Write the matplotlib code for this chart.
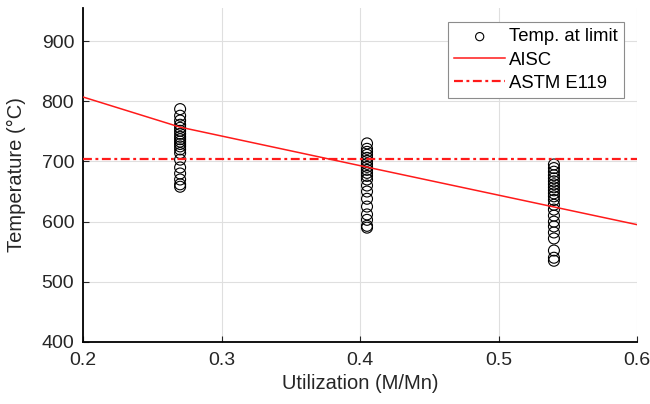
import matplotlib
matplotlib.use("Agg")
import matplotlib.pyplot as plt
import numpy as np

plt.rcParams['font.family'] = ['Liberation Sans', 'DejaVu Sans']

# Data
util_levels = [0.27, 0.405, 0.54]
temps_027 = [787, 776, 768, 761, 756, 751, 746, 741, 737, 733, 729, 725, 720, 714, 703, 690, 680, 670, 662, 658]
temps_0405 = [730, 721, 716, 711, 706, 701, 696, 691, 686, 681, 676, 670, 660, 650, 638, 625, 612, 603, 593, 590]
temps_054 = [695, 689, 683, 677, 672, 667, 662, 657, 652, 647, 642, 636, 628, 620, 610, 600, 592, 582, 572, 552, 540, 535]

aisc_x = [0.2, 0.27, 0.4, 0.6]
aisc_y = [807, 757, 693, 595]
astm_x = [0.2, 0.6]
astm_y = [704, 704]

xticks = [0.2, 0.3, 0.4, 0.5, 0.6]
yticks = [400, 500, 600, 700, 800, 900]

fig = plt.figure(figsize=(6.5, 4.04), dpi=100)
ax = fig.add_axes([0.128, 0.1535, 0.852, 0.8267])

ax.grid(True, color='#dfdfdf', linewidth=0.8)
ax.set_axisbelow(True)

groups = [temps_027, temps_0405, temps_054]
first = True
for xv, ts in zip(util_levels, groups):
    ax.scatter([xv] * len(ts), ts, s=62, facecolors='none', edgecolors='black',
               linewidths=0.8, label='Temp. at limit' if first else None, zorder=3)
    first = False

ax.plot(aisc_x, aisc_y, color='#ff1a1a', linewidth=1.1, label='AISC', zorder=4)
ax.plot(astm_x, astm_y, color='#ff1a1a', linewidth=1.6, linestyle=(0, (4, 1.6, 1.3, 1.6)),
        label='ASTM E119', zorder=4)

ax.set_xlim(0.2, 0.6)
ax.set_ylim(400, 955)
ax.set_xticks(xticks)
ax.set_xticklabels([f"{v:.1f}" for v in xticks])
ax.set_yticks(yticks)

ax.spines['top'].set_visible(False)
ax.spines['right'].set_visible(False)
ax.spines['left'].set_linewidth(1.3)
ax.spines['bottom'].set_linewidth(1.3)
ax.tick_params(direction='in', length=4, labelsize=14, colors='#262626', pad=6.5)
ax.tick_params(axis='x', pad=7)

ax.set_xlabel('Utilization (M/Mn)', fontsize=14.5, color='#262626', labelpad=4)
ax.set_ylabel('Temperature (°C)', fontsize=14.5, color='#262626', labelpad=11)

leg = ax.legend(loc='upper right', bbox_to_anchor=(0.9765, 0.958), fontsize=13.3,
                frameon=True, fancybox=False, edgecolor='#8c8c8c', framealpha=1,
                handlelength=2.75, handletextpad=0.2, borderpad=0.35, labelspacing=0.33,
                borderaxespad=0, markerscale=0.75)
leg.get_frame().set_linewidth(0.8)

fig.savefig('out.png', dpi=100)
